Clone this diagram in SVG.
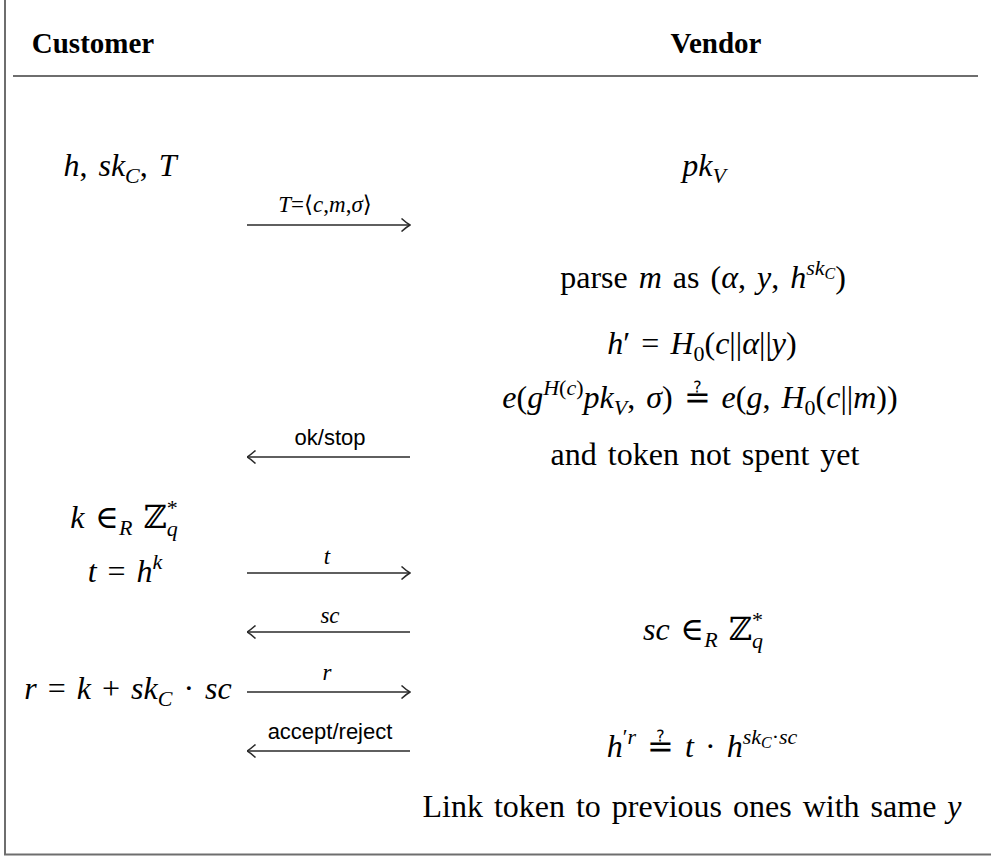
<svg xmlns="http://www.w3.org/2000/svg" width="991" height="857" viewBox="0 0 991 857">
<defs>
<style>
.hd{font-family:"Liberation Serif","DejaVu Serif",serif;font-weight:bold;font-size:29px;fill:#000;text-anchor:middle}
.m{font-family:"Liberation Serif","DejaVu Serif",serif;font-size:32px;fill:#000;text-anchor:middle}
.w{word-spacing:3px}
.i{font-style:italic}
.s{font-size:22px}
.ss{font-size:16px}
.lb{font-family:"Liberation Serif","DejaVu Serif",serif;font-size:23px;fill:#000;text-anchor:middle}
.sf{font-family:"Liberation Sans","DejaVu Sans",sans-serif;font-size:22px;fill:#000;text-anchor:middle}
.frame{stroke:#6e6e6e;stroke-width:2;fill:none}
.arr{stroke:#2a2a2a;stroke-width:1.6;fill:none}
</style>
<marker id="head" markerUnits="userSpaceOnUse" viewBox="0 0 10 14" refX="9.5" refY="7" markerWidth="10" markerHeight="14" orient="auto-start-reverse">
<path d="M1,0.5 Q6,5 9.5,7 Q6,9 1,13.5" fill="none" stroke="#2a2a2a" stroke-width="1.5"/>
</marker>
</defs>
<rect width="991" height="857" fill="#fff"/>
<g id="frame">
<path class="frame" d="M5,0 V854.5 H991"/>
<path class="frame" d="M13,76 H978"/>
</g>
<g id="header">
<text class="hd" x="93" y="53">Customer</text>
<text class="hd" x="716" y="53">Vendor</text>
</g>
<g id="customer-keys"><text class="m w" x="120" y="176"><tspan class="i">h</tspan>, <tspan class="i">sk</tspan><tspan class="i s" dy="7">C</tspan><tspan dy="-7">, </tspan><tspan class="i">T</tspan></text></g>
<g id="vendor-key"><text class="m" x="704" y="176"><tspan class="i">pk</tspan><tspan class="i s" dy="7">V</tspan></text></g>
<g id="vendor-parse"><text class="m w" x="703" y="288">parse <tspan class="i">m</tspan> as (<tspan class="i">α</tspan>, <tspan class="i">y</tspan>, <tspan class="i">h</tspan><tspan class="i s" dy="-13">sk</tspan><tspan class="i ss" dy="4">C</tspan><tspan dy="9">)</tspan></text></g>
<g id="vendor-hprime"><text class="m w" x="702" y="354"><tspan class="i">h</tspan>′ = <tspan class="i">H</tspan><tspan class="s" dy="7">0</tspan><tspan dy="-7">(</tspan><tspan class="i">c</tspan>||<tspan class="i">α</tspan>||<tspan class="i">y</tspan>)</text></g>
<g id="vendor-verify"><text class="m w" x="700" y="408"><tspan class="i">e</tspan>(<tspan class="i">g</tspan><tspan class="s" dy="-13"><tspan class="i">H</tspan>(<tspan class="i">c</tspan>)</tspan><tspan class="i" dy="13">pk</tspan><tspan class="i s" dy="7">V</tspan><tspan dy="-7">, </tspan><tspan class="i">σ</tspan>) ≟ <tspan class="i">e</tspan>(<tspan class="i">g</tspan>, <tspan class="i">H</tspan><tspan class="s" dy="7">0</tspan><tspan dy="-7">(</tspan><tspan class="i">c</tspan>||<tspan class="i">m</tspan>))</text></g>
<g id="vendor-spent"><text class="m w" x="705" y="465">and token not spent yet</text></g>
<g id="customer-k"><text class="m w" x="124" y="528"><tspan class="i">k</tspan> ∈<tspan class="i s" dy="7">R</tspan><tspan dy="-7"> ℤ</tspan><tspan class="s" dy="-13">*</tspan><tspan class="i s" dx="-11" dy="21">q</tspan></text></g>
<g id="customer-t"><text class="m w" x="125" y="582"><tspan class="i">t</tspan> = <tspan class="i">h</tspan><tspan class="i s" dy="-13">k</tspan></text></g>
<g id="vendor-sc"><text class="m w" x="703" y="640"><tspan class="i">sc</tspan> ∈<tspan class="i s" dy="7">R</tspan><tspan dy="-7"> ℤ</tspan><tspan class="s" dy="-13">*</tspan><tspan class="i s" dx="-11" dy="21">q</tspan></text></g>
<g id="customer-r"><text class="m w" x="128" y="699"><tspan class="i">r</tspan> = <tspan class="i">k</tspan> + <tspan class="i">sk</tspan><tspan class="i s" dy="7">C</tspan><tspan dy="-7"> · </tspan><tspan class="i">sc</tspan></text></g>
<g id="vendor-check"><text class="m w" x="702" y="757"><tspan class="i">h</tspan><tspan class="s" dy="-13">′<tspan class="i">r</tspan></tspan><tspan dy="13"> ≟ </tspan><tspan class="i">t</tspan> · <tspan class="i">h</tspan><tspan class="i s" dy="-13">sk</tspan><tspan class="i ss" dy="4">C</tspan><tspan class="s" dy="-4">·<tspan class="i">sc</tspan></tspan></text></g>
<g id="vendor-link"><text class="m w" x="692" y="817">Link token to previous ones with same <tspan class="i">y</tspan></text></g>
<g id="connectors">
<line class="arr" x1="247" y1="225" x2="410" y2="225" marker-end="url(#head)"/>
<text class="lb" x="325" y="212"><tspan class="i">T</tspan>=⟨<tspan class="i">c</tspan>,<tspan class="i">m</tspan>,<tspan class="i">σ</tspan>⟩</text>
<line class="arr" x1="247" y1="457" x2="410" y2="457" marker-start="url(#head)"/>
<text class="sf" x="330" y="445">ok/stop</text>
<line class="arr" x1="247" y1="573" x2="410" y2="573" marker-end="url(#head)"/>
<text class="lb i" x="327" y="564">t</text>
<line class="arr" x1="247" y1="632" x2="410" y2="632" marker-start="url(#head)"/>
<text class="lb i" x="330" y="623">sc</text>
<line class="arr" x1="247" y1="692" x2="410" y2="692" marker-end="url(#head)"/>
<text class="lb i" x="327" y="680">r</text>
<line class="arr" x1="247" y1="751" x2="410" y2="751" marker-start="url(#head)"/>
<text class="sf" x="330" y="739">accept/reject</text>
</g>
</svg>
